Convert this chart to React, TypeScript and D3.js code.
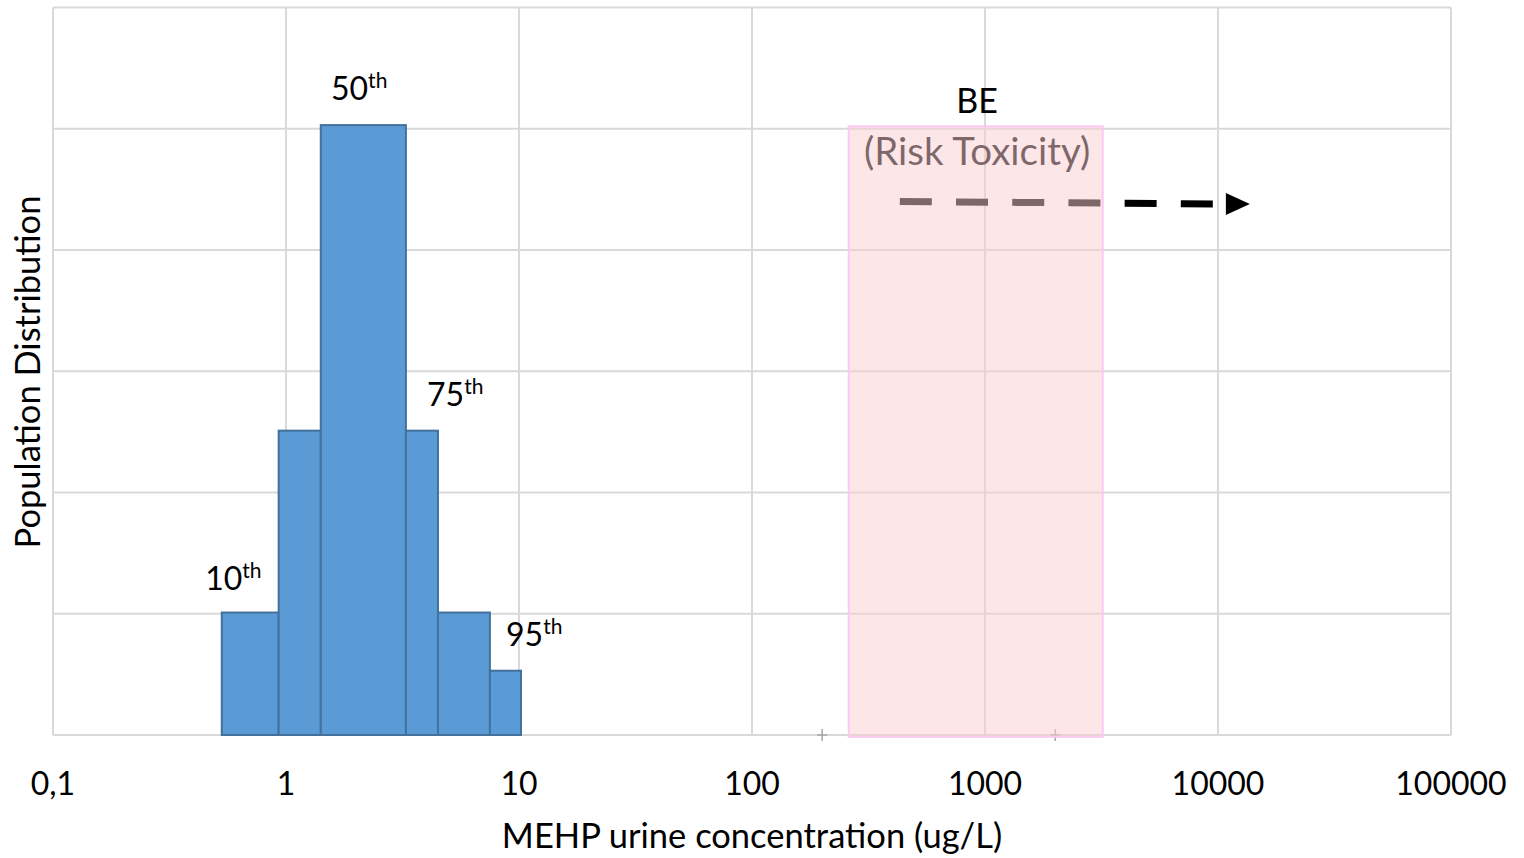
import React from "react";
import * as d3 from "d3";

const xTickValues = [0.1, 1, 10, 100, 1000, 10000, 100000];
const xTickLabels = ["0,1", "1", "10", "100", "1000", "10000", "100000"];
const yGridValues = [0, 1, 2, 3, 4, 5, 6];

const binEdges = [0.53, 0.93, 1.41, 3.27, 4.49, 7.5, 10.2];
const binHeights = [1.01, 2.51, 5.03, 2.51, 1.01, 0.53];

const percentileLabels = ["10", "50", "75", "95"];
const percentileX = [0.45, 1.56, 4.03, 8.8];
const percentileY = [1.2, 5.24, 2.71, 0.73];

const beRange = [260, 3200];
const beTop = 5.02;
const beLabelX = 925;
const beLabelY = [5.13, 4.7];
const beLabels = ["BE", "(Risk Toxicity)"];

const arrowX = [431, 9500, 13700];
const arrowY = [4.4, 4.38];

const markerX = [200, 2000];

const W = 1524;
const H = 858;
const FONT = "Lato, 'Open Sans', sans-serif";

export default function App() {
  const x = d3.scaleLog().domain([0.1, 100000]).range([53, 1451]);
  const y = d3.scaleLinear().domain([0, 6]).range([735, 7.5]);
  const grid = "#d9d9d9";

  const bars = binHeights.map((h, i) => ({ x0: binEdges[i], x1: binEdges[i + 1], h }));

  const ax0 = x(arrowX[0]);
  const ax1 = x(arrowX[1]);
  const atip = x(arrowX[2]);
  const ay0 = y(arrowY[0]);
  const ay1 = y(arrowY[1]);
  const head = `M${atip},${ay1} L${atip - 24},${ay1 - 11} L${atip - 24},${ay1 + 11} Z`;

  return (
    <svg width={W} height={H} style={{ position: "absolute", left: 0, top: 0, background: "#fff" }}>
      <rect x={0} y={0} width={W} height={H} fill="#fff" />
      {/* gridlines */}
      {xTickValues.map((v) => (
        <line key={"vx" + v} x1={x(v)} x2={x(v)} y1={y(6)} y2={y(0)} stroke={grid} strokeWidth={2} />
      ))}
      {yGridValues.map((v) => (
        <line key={"hy" + v} x1={x(0.1)} x2={x(100000)} y1={y(v)} y2={y(v)} stroke={grid} strokeWidth={2} />
      ))}
      {/* bars */}
      {bars.map((b, i) => (
        <rect
          key={"b" + i}
          x={x(b.x0)}
          y={y(b.h)}
          width={x(b.x1) - x(b.x0)}
          height={y(0) - y(b.h)}
          fill="#5b9bd5"
          stroke="#41719c"
          strokeWidth={2}
        />
      ))}
      {/* markers */}
      {markerX.map((v) => (
        <g key={"m" + v} stroke="#a6a6a6" strokeWidth={1.5}>
          <line x1={x(v) - 5} x2={x(v) + 5} y1={y(0)} y2={y(0)} />
          <line x1={x(v)} x2={x(v)} y1={y(0) - 6} y2={y(0) + 6} />
        </g>
      ))}
      {/* arrow */}
      <line x1={ax0} y1={ay0} x2={ax1} y2={ay1} stroke="#000" strokeWidth={7} strokeDasharray="32 24.2" />
      <path d={head} fill="#000" />
      {/* percentile labels */}
      {percentileLabels.map((l, i) => (
        <text key={"p" + l} x={x(percentileX[i])} y={y(percentileY[i])} fontFamily={FONT} fontSize={32} fill="#000">
          {l}
          <tspan fontSize={21} dy={-12}>th</tspan>
        </text>
      ))}
      {/* BE labels */}
      {beLabels.map((l, i) => (
        <text key={"be" + i} x={x(beLabelX)} y={y(beLabelY[i])} textAnchor="middle" fontFamily={FONT} fontSize={i === 0 ? 34 : 38.5} fill="#000">
          {l}
        </text>
      ))}
      {/* BE range overlay */}
      <rect
        x={x(beRange[0])}
        y={y(beTop)}
        width={x(beRange[1]) - x(beRange[0])}
        height={y(-0.015) - y(beTop)}
        fill="rgb(251,206,210)"
        fillOpacity={0.5}
        stroke="#fbc8f5"
        strokeWidth={2}
      />
      {/* x tick labels */}
      {xTickValues.map((v, i) => (
        <text key={"xt" + v} x={x(v)} y={795} textAnchor="middle" fontFamily={FONT} fontSize={32} fill="#000">
          {xTickLabels[i]}
        </text>
      ))}
      <text x={752} y={848} textAnchor="middle" fontFamily={FONT} fontSize={34.5} fill="#000">
        MEHP urine concentration (ug/L)
      </text>
      <text transform={`translate(40,372) rotate(-90)`} textAnchor="middle" fontFamily={FONT} fontSize={34.5} fill="#000">
        Population Distribution
      </text>
    </svg>
  );
}
